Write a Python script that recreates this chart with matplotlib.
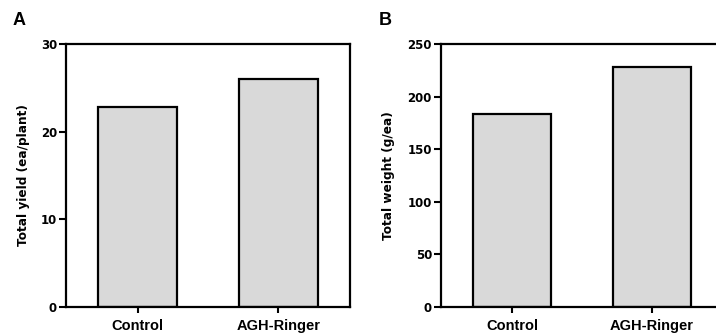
import matplotlib
matplotlib.use("Agg")
import matplotlib.pyplot as plt

plt.rcParams['font.family'] = ['Liberation Sans', 'DejaVu Sans']
plt.rcParams['font.weight'] = 'bold'

# data
groups = ["Control", "AGH-Ringer"]
yield_vals = [22.8, 26.0]
weight_vals = [183.7, 227.8]

fig = plt.figure(figsize=(7.16, 3.34), dpi=100)

def panel(ax, vals, ymax, step, ylabel):
    x = range(len(groups))
    ax.bar(x, vals, width=0.56, color="#d9d9d9", edgecolor="black", linewidth=1.6)
    ax.set_xlim(-0.51, 1.51)
    ax.set_ylim(0, ymax)
    ax.set_yticks(range(0, ymax + 1, step))
    ax.set_yticklabels([str(v) for v in range(0, ymax + 1, step)],
                       fontsize=8.5, fontweight='bold', family='DejaVu Sans')
    ax.set_xticks(list(x))
    ax.set_xticklabels(groups, fontsize=10.5, fontweight='bold')
    ax.tick_params(axis='y', direction='out', length=5, width=1.5, pad=1.5)
    ax.tick_params(axis='x', direction='out', length=4.5, width=1.5, pad=4)
    for s in ax.spines.values():
        s.set_linewidth(1.6)
    ax.set_ylabel(ylabel, fontsize=8.7, fontweight='bold', family='DejaVu Sans')
    return ax

ax1 = fig.add_axes([66/716, 27/334, 284/716, 263/334])
panel(ax1, yield_vals, 30, 10, "Total yield (ea/plant)")
ax1.yaxis.set_label_coords(-0.127, 0.5)

ax2 = fig.add_axes([441/716, 27/334, 282/716, 263/334])
panel(ax2, weight_vals, 250, 50, "Total weight (g/ea)")
ax2.yaxis.set_label_coords(-0.163, 0.5)

fig.text(19.3/716, 1 - 20.3/334, "A", fontsize=13, fontweight='bold', ha='center', va='center')
fig.text(385/716, 1 - 20.3/334, "B", fontsize=13, fontweight='bold', ha='center', va='center')

fig.savefig("out.png", dpi=100)
